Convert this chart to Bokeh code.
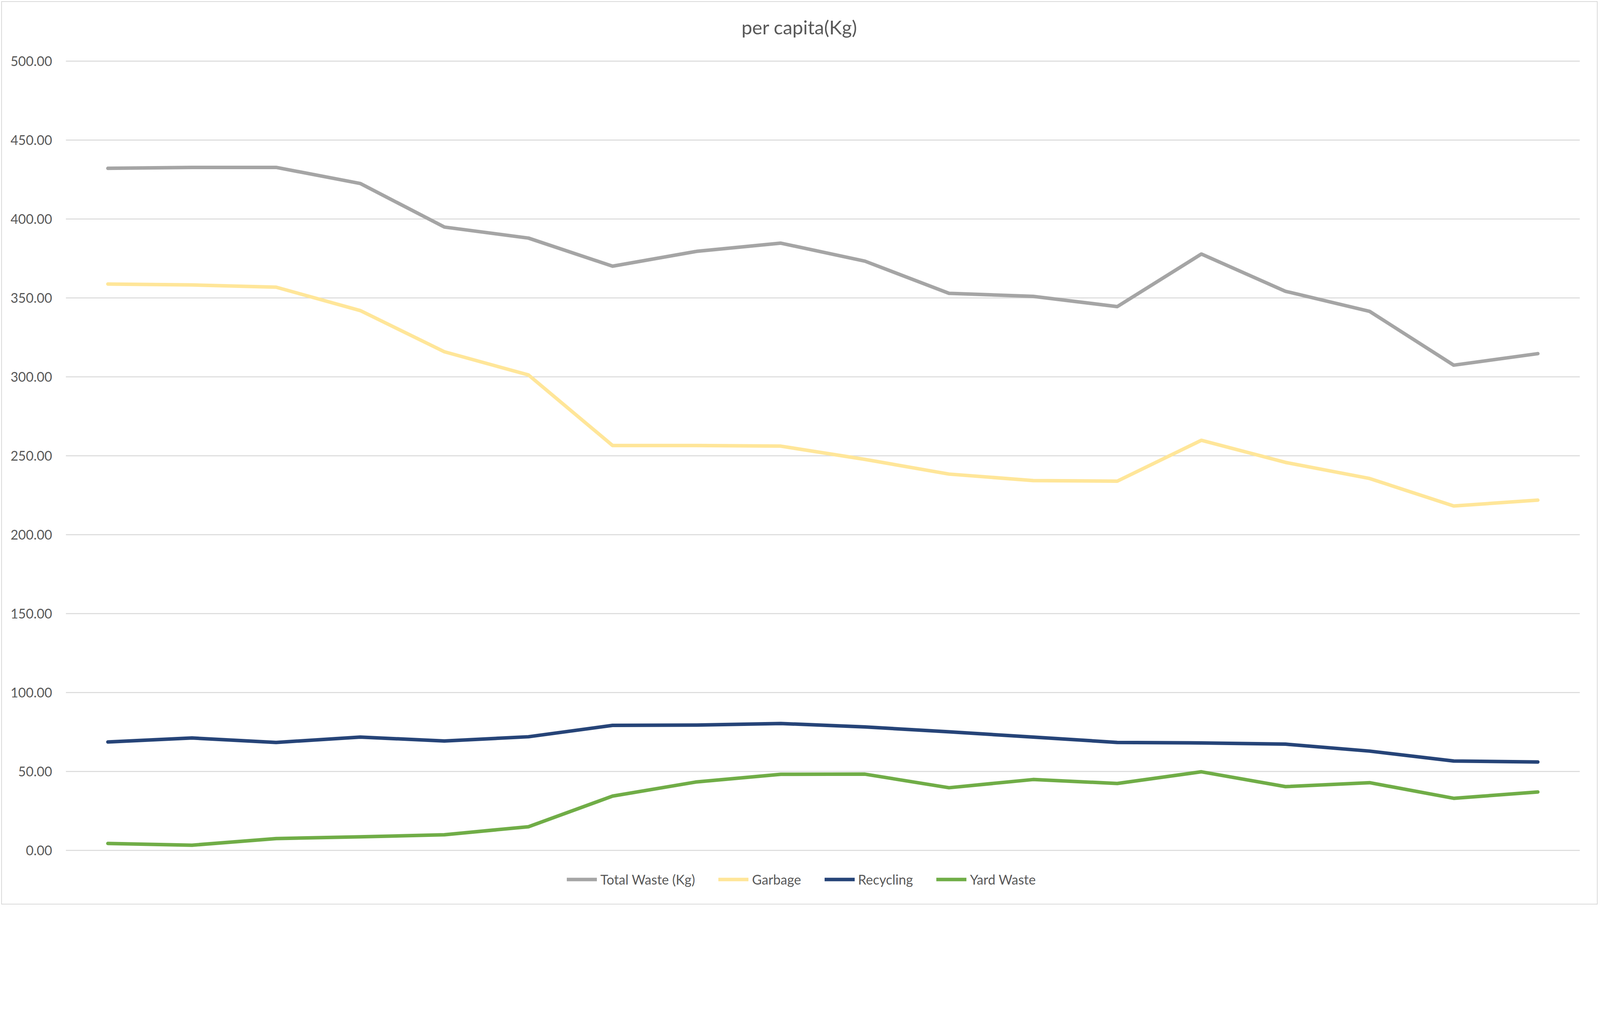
from bokeh.plotting import figure
from bokeh.models import Range1d, FactorRange, FixedTicker, NumeralTickFormatter, Legend, LegendItem, Label
from bokeh.embed import file_html
from bokeh.resources import INLINE

# ---- data ----
categories = ["1", "2", "3", "4", "5", "6", "7", "8", "9",
              "10", "11", "12", "13", "14", "15", "16", "17", "18"]
total_waste = [432.1, 432.7, 432.7, 422.5, 394.9, 387.9, 370.1, 379.5, 384.7,
               373.3, 352.9, 351.0, 344.5, 377.8, 354.2, 341.5, 307.4, 314.7]
garbage = [358.8, 358.2, 356.8, 342.0, 315.9, 301.2, 256.5, 256.5, 256.1,
           247.7, 238.4, 234.3, 233.9, 259.8, 245.8, 235.6, 218.2, 221.9]
recycling = [68.7, 71.2, 68.4, 71.8, 69.3, 72.0, 79.2, 79.4, 80.4,
             78.2, 75.1, 71.8, 68.4, 68.1, 67.3, 62.9, 56.6, 56.0]
yard_waste = [4.4, 3.3, 7.5, 8.6, 9.9, 15.0, 34.4, 43.4, 48.2,
              48.3, 39.7, 44.9, 42.4, 49.8, 40.4, 42.9, 33.0, 37.0]
series_names = ["Total Waste (Kg)", "Garbage", "Recycling", "Yard Waste"]
series_colors = ["#a5a5a5", "#ffe699", "#264478", "#70ad47"]
y_ticks = [0, 50, 100, 150, 200, 250, 300, 350, 400, 450, 500]
title_text = "per capita(Kg)"

FONT = "Lato"
TEXT_COLOR = "#595959"

# ---- layout (CSS px) ----
W, H = 4093, 2318
FRAME_LEFT, FRAME_RIGHT = 168, 4044
TOP_500, ZERO_Y, FRAME_BOTTOM = 156, 2176, 2306   # screen rows of 500, 0 and frame bottom
Y_MAX = 500
px_per_unit = (ZERO_Y - TOP_500) / Y_MAX
y_start = -(FRAME_BOTTOM - ZERO_Y) / px_per_unit   # empty band below 0 holds the legend
y_end = Y_MAX + TOP_500 / px_per_unit              # empty band above 500 holds the title
px_per_cat = (FRAME_RIGHT - FRAME_LEFT) / len(categories)

p = figure(width=W, height=H, output_backend="svg", toolbar_location=None,
           x_range=FactorRange(*categories), y_range=Range1d(y_start, y_end),
           min_border_left=FRAME_LEFT, min_border_right=W - FRAME_RIGHT,
           min_border_top=0, min_border_bottom=H - FRAME_BOTTOM)
p.title.text = ""
p.background_fill_alpha = 0
p.border_fill_alpha = 0
p.outline_line_color = None
p.styles = {"outline": "2.5px solid #d9d9d9", "outline-offset": "-5px"}

# title, centred on the canvas near its top
TITLE_CENTER_X, TITLE_CENTER_Y = 2046, 68
p.add_layout(Label(x=(TITLE_CENTER_X - FRAME_LEFT) / px_per_cat,
                   y=Y_MAX + (TOP_500 - TITLE_CENTER_Y) / px_per_unit,
                   text=title_text, text_align="center", text_baseline="middle",
                   text_font=FONT, text_font_size="49px", text_color=TEXT_COLOR))

# axes
p.xaxis.visible = False
p.xgrid.grid_line_color = None
p.ygrid.grid_line_color = "#d9d9d9"
p.ygrid.grid_line_width = 2.7
yax = p.yaxis[0]
yax.ticker = FixedTicker(ticks=y_ticks)
yax.formatter = NumeralTickFormatter(format="0.00")
yax.axis_line_color = None
yax.major_tick_line_color = None
yax.minor_tick_line_color = None
yax.major_tick_out = 0
yax.major_tick_in = 0
yax.major_label_standoff = 35
yax.major_label_text_font = FONT
yax.major_label_text_font_size = "34px"
yax.major_label_text_color = TEXT_COLOR

# lines
items = []
for name, vals, col in zip(series_names, [total_waste, garbage, recycling, yard_waste], series_colors):
    r = p.line(x=categories, y=vals, line_color=col, line_width=9,
               line_cap="round", line_join="round")
    items.append(LegendItem(label=name, renderers=[r]))

legend = Legend(items=items, orientation="horizontal", location=(1283, 35))
legend.padding = 0
legend.margin = 0
legend.border_line_color = None
legend.background_fill_alpha = 0
legend.glyph_width = 77
legend.glyph_height = 41
legend.label_height = 41
legend.label_standoff = 9
legend.spacing = 60
legend.label_text_font = FONT
legend.label_text_font_size = "34px"
legend.label_text_color = TEXT_COLOR
p.add_layout(legend, "center")

open("out.html", "w").write(file_html(p, INLINE))
